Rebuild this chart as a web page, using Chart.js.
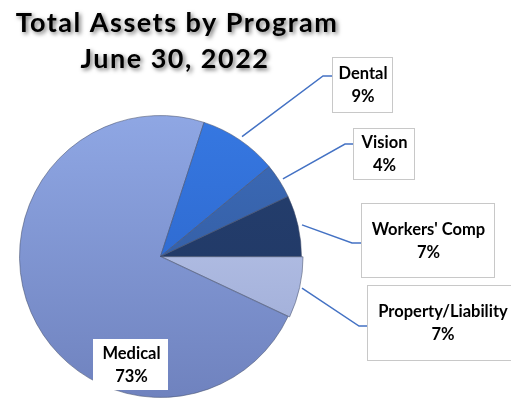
<!DOCTYPE html>
<html>
<head>
<meta charset="utf-8">
<script src="https://cdn.jsdelivr.net/npm/chart.js@4/dist/chart.umd.min.js"></script>
<style>
  html, body { margin: 0; padding: 0; background: #fff; }
  #wrap { position: relative; width: 511px; height: 400px; }
</style>
</head>
<body>
<div id="wrap"><canvas id="grafica" width="511" height="400"></canvas></div>
<script>
// Datos del gráfico (orden horario desde las 3 en punto)
const categorias = ['Property/Liability', 'Medical', 'Dental', 'Vision', "Workers' Comp"];
const porcentajes = [7, 73, 9, 4, 7];
const coloresArriba = ['#C3CEF0', '#8FA7E4', '#3678E2', '#3D6CBA', '#25406F'];
const coloresAbajo = ['#98A6D2', '#6F82BE', '#2A60C2', '#2E5596', '#1F3562'];
const tituloLineas = ['Total Assets by Program', 'June 30, 2022'];

// Cajas de etiquetas (x, y, ancho, alto) y codo del conector
const cajas = [
  { x: 367, y: 285, w: 150, h: 75, codo: [359, 326] },
  { x: 93, y: 339, w: 75, h: 51, codo: null },
  { x: 332, y: 57, w: 60, h: 55, codo: [323, 76] },
  { x: 353, y: 128, w: 61, h: 51, codo: [345, 144] },
  { x: 361, y: 203, w: 133, h: 74, codo: [352, 243] }
];

// Relleno con degradado vertical por sector
function degradado(ctx, i) {
  const area = ctx.chart.chartArea;
  if (!area) return coloresArriba[i];
  const g = ctx.chart.ctx.createLinearGradient(0, area.top, 0, area.bottom);
  g.addColorStop(0, coloresArriba[i]);
  g.addColorStop(1, coloresAbajo[i]);
  return g;
}

// Título con sombra
const pluginTitulo = {
  id: 'tituloSombra',
  afterDraw(chart) {
    const c = chart.ctx;
    c.save();
    c.font = 'bold 27px Lato';
    c.letterSpacing = '1.5px';
    c.textAlign = 'center';
    c.textBaseline = 'middle';
    c.fillStyle = '#000';
    c.shadowColor = 'rgba(0,0,0,0.55)';
    c.shadowBlur = 4;
    c.shadowOffsetX = 2;
    c.shadowOffsetY = 2;
    c.fillText(tituloLineas[0], 177, 23);
    c.fillText(tituloLineas[1], 175, 59);
    c.restore();
  }
};

// Etiquetas con caja y línea guía
const pluginEtiquetas = {
  id: 'etiquetasCaja',
  afterDraw(chart) {
    const c = chart.ctx;
    const arcos = chart.getDatasetMeta(0).data;
    c.save();
    arcos.forEach((arco, i) => {
      const p = arco.getProps(['x', 'y', 'startAngle', 'endAngle', 'outerRadius'], true);
      const b = cajas[i];
      if (b.codo) {
        const medio = (p.startAngle + p.endAngle) / 2;
        const r = p.outerRadius + 4;
        c.beginPath();
        c.moveTo(p.x + Math.cos(medio) * r, p.y + Math.sin(medio) * r);
        c.lineTo(b.codo[0], b.codo[1]);
        c.lineTo(b.x, b.codo[1]);
        c.strokeStyle = '#4472C4';
        c.lineWidth = 1.5;
        c.stroke();
      }
      c.fillStyle = '#fff';
      c.fillRect(b.x, b.y, b.w, b.h);
      if (b.codo) {
        c.strokeStyle = '#C8C8C8';
        c.lineWidth = 1;
        c.strokeRect(b.x + 0.5, b.y + 0.5, b.w, b.h);
      }
      c.fillStyle = '#000';
      c.font = 'bold 16.5px Lato';
      c.textAlign = 'center';
      c.textBaseline = 'middle';
      const cx = b.x + b.w / 2 + 1;
      const cy = b.y + b.h / 2;
      c.fillText(categorias[i], cx, cy - 10.5);
      c.fillText(porcentajes[i] + '%', cx, cy + 12.5);
    });
    c.restore();
  }
};

new Chart(document.getElementById('grafica'), {
  type: 'pie',
  data: {
    labels: categorias,
    datasets: [{
      data: porcentajes,
      backgroundColor: ctx => degradado(ctx, ctx.dataIndex),
      borderColor: 'rgba(70,80,110,0.55)',
      borderWidth: 1,
      offset: [4, 0, 0, 0, 0]
    }]
  },
  options: {
    responsive: false,
    animation: false,
    rotation: 90,
    layout: { padding: { left: 17, right: 207, top: 113, bottom: 0 } },
    plugins: {
      legend: { display: false },
      title: { display: false },
      tooltip: { enabled: false }
    }
  },
  plugins: [pluginTitulo, pluginEtiquetas]
});
</script>
</body>
</html>
